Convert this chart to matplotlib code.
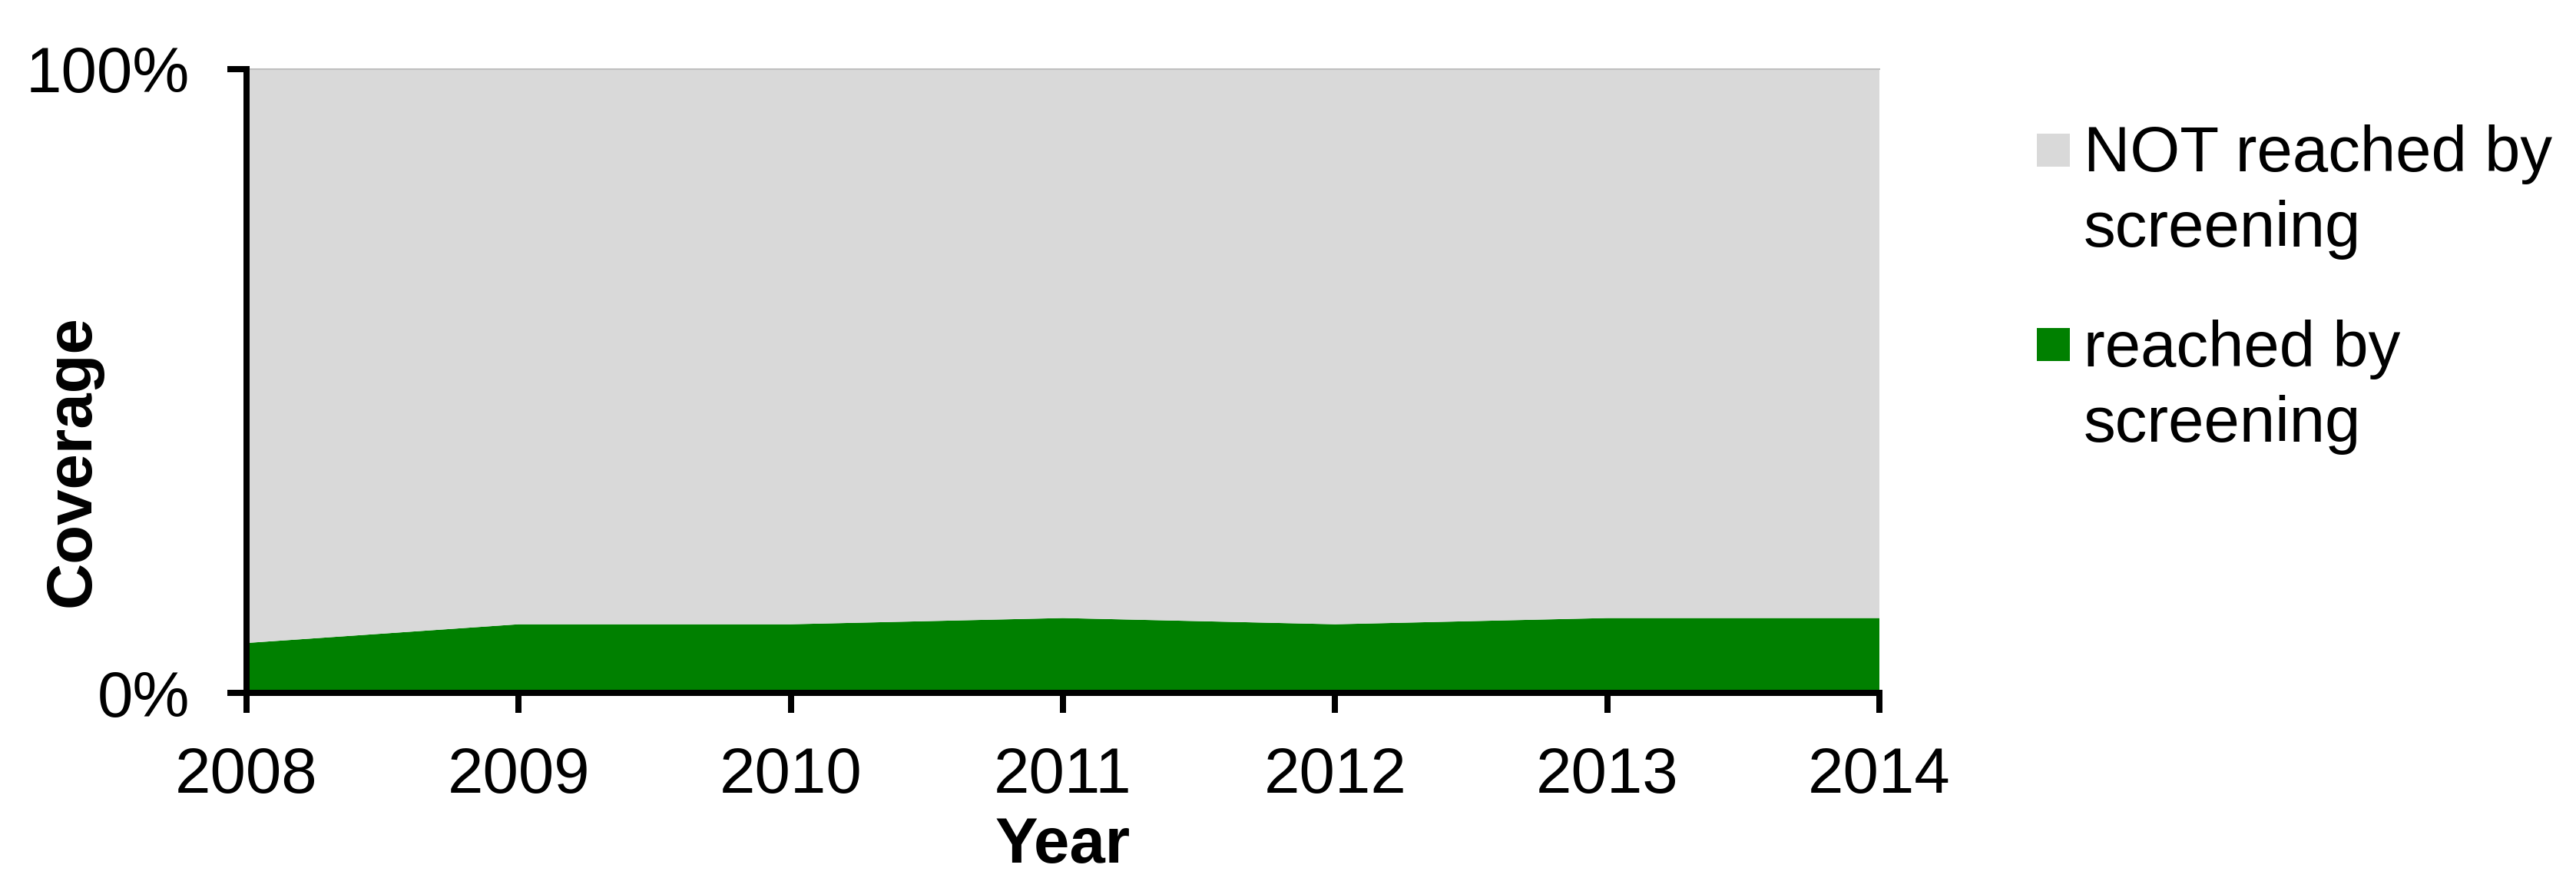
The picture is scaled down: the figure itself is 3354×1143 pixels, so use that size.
import matplotlib
matplotlib.use("Agg")
import matplotlib.pyplot as plt
from matplotlib.patches import Rectangle
import numpy as np

years = [2008, 2009, 2010, 2011, 2012, 2013, 2014]
reached = [8, 11, 11, 12, 11, 12, 12]          # % reached by screening
not_reached = [100 - v for v in reached]        # % NOT reached by screening
legend_labels = ["NOT reached by\nscreening", "reached by\nscreening"]
ytick_labels = ["0%", "100%"]
xlabel = "Year"
ylabel = "Coverage"

GREEN = "#008000"
GRAY = "#D9D9D9"

plt.rcParams['font.family'] = ['Liberation Sans', 'DejaVu Sans']

W, H = 3355, 1143
fig = plt.figure(figsize=(W / 100, H / 100), dpi=100)
ax = fig.add_axes([321 / W, 1 - 902 / H, (2447 - 321) / W, (902 - 90) / H])

ax.stackplot(years, reached, not_reached, colors=[GREEN, GRAY], linewidth=0)

ax.set_xlim(years[0], years[-1])
ax.set_ylim(0, 100)
ax.set_xticks(years)
ax.set_xticklabels([str(y) for y in years])
ax.set_yticks([0, 100])
ax.set_yticklabels(ytick_labels)

lw = 5.76
for s in ['left', 'bottom']:
    ax.spines[s].set_linewidth(lw)
    ax.spines[s].set_color('black')
    ax.spines[s].set_zorder(5)
ax.spines['right'].set_visible(False)
ax.spines['top'].set_color('#BFBFBF')
ax.spines['top'].set_linewidth(1.5)

ax.tick_params(axis='x', direction='out', length=19, width=lw, pad=31,
               labelsize=60, color='black')
ax.tick_params(axis='y', direction='out', length=18, width=lw, pad=35,
               labelsize=60, color='black')
for t in ax.get_xticklines() + ax.get_yticklines():
    t.set_zorder(6)

fig.text(94.5 / W, 1 - 600 / H, ylabel, rotation=90, ha='center', va='center',
         fontsize=60, fontweight='bold')
fig.text(1384 / W, 3 / H, xlabel, ha='center', va='bottom',
         fontsize=60, fontweight='bold')

# legend (manual, handles aligned to first text line; baseline = last line)
entries = [(legend_labels[0], GRAY, 174, 321), (legend_labels[1], GREEN, 427, 575)]
for label, col, sq_top, base in entries:
    fig.patches.append(Rectangle((2652 / W, 1 - (sq_top + 43) / H), 43 / W, 43 / H,
                                 transform=fig.transFigure, facecolor=col,
                                 edgecolor='none'))
    fig.text(2713 / W, 1 - base / H, label, ha='left', va='baseline',
             fontsize=60, linespacing=1.33)

fig.savefig("out.png", dpi=100)
